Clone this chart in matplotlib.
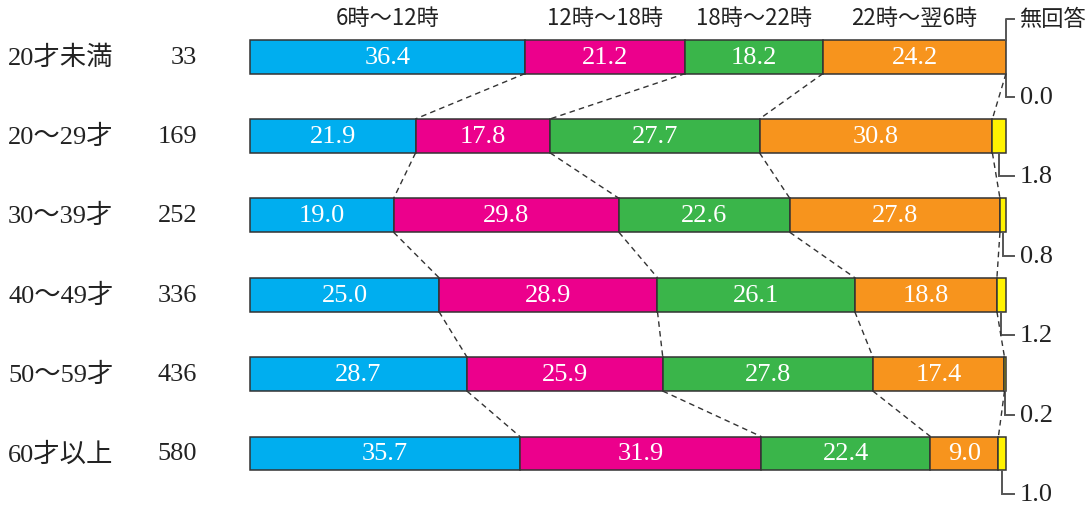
import matplotlib.pyplot as plt
import numpy as np

groups = ['20才未満', '20～29才', '30～39才', '40～49才', '50～59才', '60才以上']
counts = [33, 169, 252, 336, 436, 580]
periods = ['6時～12時', '12時～18時', '18時～22時', '22時～翌6時']
vals = np.array([
    [36.4, 21.2, 18.2, 24.2],
    [21.9, 17.8, 27.7, 30.8],
    [19.0, 29.8, 22.6, 27.8],
    [25.0, 28.9, 26.1, 18.8],
    [28.7, 25.9, 27.8, 17.4],
    [35.7, 31.9, 22.4, 9.0],
])
no_answer = [0.0, 1.8, 0.8, 1.2, 0.2, 1.0]
colors = ['#00aeef', '#ec008c', '#3ab54a', '#f7941d']
na_color = '#fff200'

serif = ['Liberation Serif', 'Noto Sans CJK JP']
sans = ['Noto Sans CJK JP', 'DejaVu Sans']

fig = plt.figure(figsize=(10.92, 5.06), dpi=100)
ax = fig.add_axes([0, 0, 1, 1])
ax.set_xlim(-250 / 7.56, (1092 - 250) / 7.56)
ax.set_ylim((506 - 57.5) / 79.4, -57.5 / 79.4)
ax.axis('off')

h = 34 / 79.4
edge = '#333333'
n = len(groups)

for i in range(n):
    left = 0.0
    for j in range(4):
        v = vals[i, j]
        ax.barh(i, v, left=left, height=h, color=colors[j], edgecolor=edge, linewidth=1.1)
        ax.text(left + v / 2, i, f'{v:.1f}', ha='center', va='center', color='white',
                fontsize=19, family=serif)
        left += v
    if no_answer[i] > 0:
        ax.barh(i, 100 - left, left=left, height=h, color=na_color, edgecolor=edge, linewidth=1.1)
    # bracket to no-answer label
    xm = 100 - no_answer[i] / 2
    yb = i + 40.5 / 79.4
    ax.plot([xm, xm, 101], [i + h / 2, yb, yb], color='#555555', lw=1.4, solid_joinstyle='miter')
    ax.text(101.8, yb, f'{no_answer[i]:.1f}', ha='left', va='center', fontsize=19,
            family=serif, color='#222222')
    ax.text(-32.0, i, groups[i], ha='left', va='center', fontsize=19, family=serif, color='#222222')
    ax.text(-7.0, i, str(counts[i]), ha='right', va='center', fontsize=19, family=serif, color='#222222')

# dashed connectors between rows
for i in range(n - 1):
    c0 = np.cumsum(vals[i])
    c1 = np.cumsum(vals[i + 1])
    for j in range(4):
        ax.plot([c0[j], c1[j]], [i + h / 2, i + 1 - h / 2], color='#333333', lw=1.0,
                dashes=(4, 3))

# header labels centred on first row segments
c = np.concatenate([[0], np.cumsum(vals[0])])
for j, p in enumerate(periods):
    ax.text((c[j] + c[j + 1]) / 2, -39 / 79.4, p, ha='center', va='center',
            fontsize=16, family=sans, color='#222222')

# no-answer header bracket
yt = -(57.5 - 20) / 79.4
ax.plot([100, 100, 101], [-h / 2, yt, yt], color='#555555', lw=1.4)
ax.text(101.8, yt, '無回答', ha='left', va='center', fontsize=16, family=sans, color='#222222')

fig.savefig('out.png', dpi=100)
